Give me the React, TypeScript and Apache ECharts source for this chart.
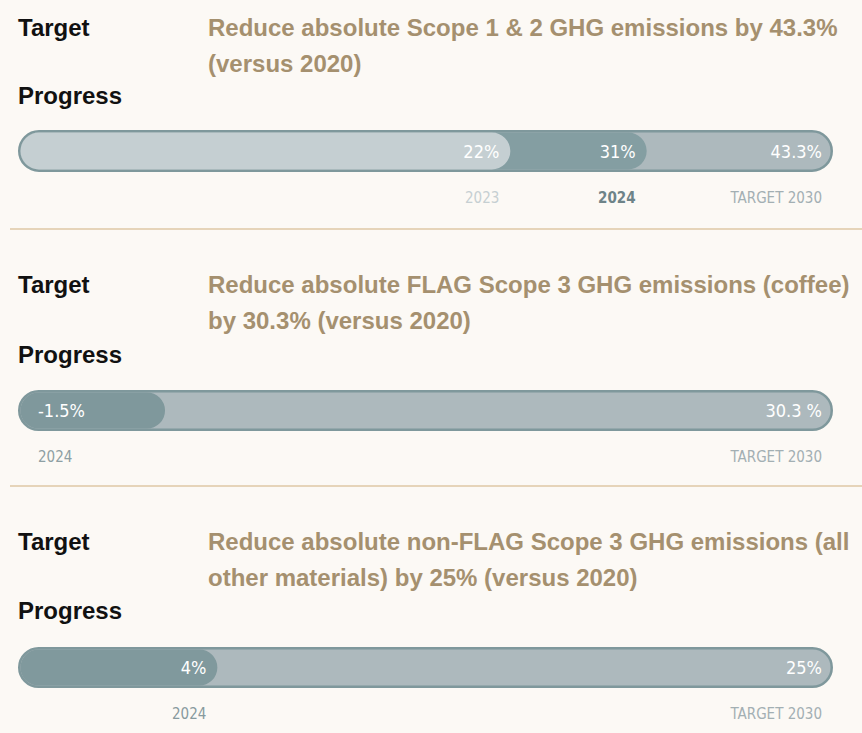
import React, { useEffect, useRef } from 'react';
import * as echarts from 'echarts';

// ---- Data ----
const headerLabels = ['Target', 'Progress'];
const title1 = ['Reduce absolute Scope 1 & 2 GHG emissions by 43.3%', '(versus 2020)'];
const title2 = ['Reduce absolute FLAG Scope 3 GHG emissions (coffee)', 'by 30.3% (versus 2020)'];
const title3 = ['Reduce absolute non-FLAG Scope 3 GHG emissions (all', 'other materials) by 25% (versus 2020)'];

const bar1Years = ['2023', '2024', 'TARGET 2030'];
const bar1Values = [22, 31, 43.3];
const bar1Labels = ['22%', '31%', '43.3%'];

const bar2Years = ['2024', 'TARGET 2030'];
const bar2Values = [-1.5, 30.3];
const bar2Labels = ['-1.5%', '30.3 %'];

const bar3Years = ['2024', 'TARGET 2030'];
const bar3Values = [4, 25];
const bar3Labels = ['4%', '25%'];

// ---- Styles ----
const COND = "'Liberation Sans Narrow', 'DejaVu Sans Condensed', 'Roboto', sans-serif";
const SANS = "'Liberation Sans', Arial, Helvetica, sans-serif";
const TRACK_FILL = '#adb9bd';
const TRACK_STROKE = '#7f989c';
const TITLE_COLOR = '#a5906f';

const bars = [
  {
    values: bar1Values, labels: bar1Labels, years: bar1Years,
    fills: ['#c5cfd2', '#849ea2', TRACK_FILL],
    yearColors: ['#c6cfd2', '#6e8388', '#a3afb3'],
    yearWeights: ['normal', 'bold', 'normal'],
    min: -10.5, top: 130, height: 42,
  },
  {
    values: bar2Values, labels: bar2Labels, years: bar2Years,
    fills: ['#7f989c', TRACK_FILL],
    yearColors: ['#8e9fa3', '#a3afb3'],
    yearWeights: ['normal', 'normal'],
    min: -8.5, top: 390, height: 41,
  },
  {
    values: bar3Values, labels: bar3Labels, years: bar3Years,
    fills: ['#80999d', TRACK_FILL],
    yearColors: ['#889a9e', '#a3afb3'],
    yearWeights: ['normal', 'normal'],
    min: -2.8, top: 647, height: 41,
  },
];

const sections = [
  { title: title1, y: 29, progressY: 97 },
  { title: title2, y: 286, progressY: 356 },
  { title: title3, y: 543, progressY: 612 },
];

const separatorsY = [229, 486];

function makeRender(b: any) {
  return (params: any, api: any) => {
    const j = api.value(2) as number;
    const v = api.value(0) as number;
    const last = b.values.length - 1;
    const p0 = api.coord([b.min, 0]);
    const p1 = api.coord([v, 0]);
    const h = (api.size([0, 1]) as number[])[1];
    const top = p0[1] - h / 2;
    const children: any[] = [];
    if (j === last) {
      children.push({
        type: 'rect',
        shape: { x: p0[0] + 1.25, y: top + 1.25, width: p1[0] - p0[0] - 2.5, height: h - 2.5, r: (h - 2.5) / 2 },
        style: { fill: TRACK_FILL, stroke: TRACK_STROKE, lineWidth: 2.5 },
      });
    } else {
      children.push({
        type: 'rect',
        shape: { x: p0[0] + 2.5, y: top + 2.5, width: p1[0] - p0[0] - 2.5, height: h - 5, r: (h - 5) / 2 },
        style: { fill: b.fills[j] },
      });
    }
    const neg = v < 0;
    const tx = neg ? p0[0] + 20 : p1[0] - 11;
    children.push({
      type: 'text',
      style: {
        text: b.labels[j], x: tx, y: p0[1], align: neg ? 'left' : 'right', verticalAlign: 'middle',
        fill: '#ffffff', fontSize: 18, fontFamily: COND,
      },
    });
    children.push({
      type: 'text',
      style: {
        text: b.years[j], x: tx, y: top + h + 26, align: neg ? 'left' : 'right', verticalAlign: 'middle',
        fill: b.yearColors[j], fontSize: 15, fontFamily: COND, fontWeight: b.yearWeights[j],
      },
    });
    return { type: 'group', children };
  };
}

export default function App() {
  const ref = useRef<HTMLDivElement>(null);
  useEffect(() => {
    const chart = echarts.init(ref.current!, null, { renderer: 'svg' });
    const graphics: any[] = [];
    const font = `bold 24px ${SANS}`;
    sections.forEach((s) => {
      graphics.push({
        type: 'text', left: 18, top: s.y - 14,
        style: { text: headerLabels[0], fill: '#111111', font },
      });
      graphics.push({
        type: 'text', left: 208, top: s.y - 14,
        style: { text: s.title[0], fill: TITLE_COLOR, font },
      });
      graphics.push({
        type: 'text', left: 208, top: s.y + 22,
        style: { text: s.title[1], fill: TITLE_COLOR, font },
      });
      graphics.push({
        type: 'text', left: 18, top: s.progressY - 14,
        style: { text: headerLabels[1], fill: '#111111', font },
      });
    });
    separatorsY.forEach((y) => {
      graphics.push({
        type: 'line', shape: { x1: 10, y1: y, x2: 862, y2: y },
        style: { stroke: '#e6d4b9', lineWidth: 2 },
      });
    });

    chart.setOption({
      animation: false,
      backgroundColor: '#fcf9f5',
      grid: bars.map((b) => ({ left: 18, right: 29, top: b.top, height: b.height })),
      xAxis: bars.map((b, i) => ({
        type: 'value', gridIndex: i, min: b.min, max: b.values[b.values.length - 1], show: false,
      })),
      yAxis: bars.map((b, i) => ({ type: 'category', gridIndex: i, data: [''], show: false })),
      series: bars.map((b, i) => {
        const order = b.values.map((_, k) => k).sort((a, c) => b.values[c] - b.values[a]);
        return {
          type: 'custom',
          xAxisIndex: i,
          yAxisIndex: i,
          clip: false,
          encode: { x: 0, y: 1 },
          renderItem: makeRender(b),
          data: order.map((k) => [b.values[k], 0, k]),
        };
      }),
      graphic: graphics,
    });
    return () => chart.dispose();
  }, []);
  return (
    <div
      ref={ref}
      style={{ position: 'fixed', left: 0, top: 0, width: 862, height: 733, background: '#fcf9f5' }}
    />
  );
}
